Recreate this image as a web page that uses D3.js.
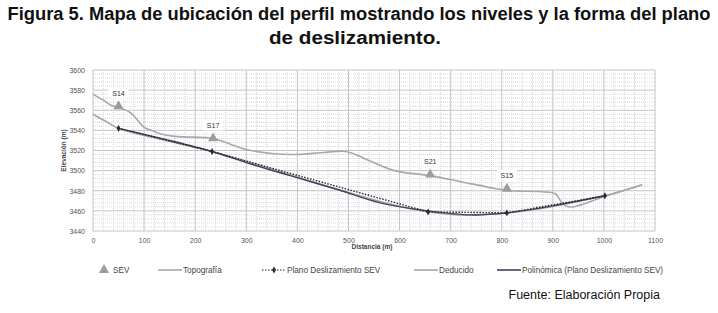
<!DOCTYPE html>
<html>
<head>
<meta charset="utf-8">
<script src="https://cdn.jsdelivr.net/npm/d3@7"></script>
<style>
  body { margin: 0; background: #fff; }
  text { font-family: "Liberation Sans", Arial, sans-serif; }
  .tick text { font-size: 7px; fill: #555; }
</style>
</head>
<body>
<div id="chart"></div>
<script>
// data (distance m, elevation m)
const topografia = [[0,3576],[20,3570],[35,3565],[60,3561],[75,3557],[100,3543],[115,3540],[130,3537],[160,3534],
  [235,3532],[270,3526],[300,3521],[350,3517],[400,3516],[450,3518],[495,3519],[540,3510],[590,3500],[660,3495],
  [720,3489],[790,3482],[820,3480],[880,3479],[905,3477],[915,3470],[925,3465],[940,3464],[1000,3474],[1075,3486]];
const deducido = [[0,3556],[25,3549],[50,3542],[233,3519],[656,3459],[810,3458],[1000,3475],[1075,3486]];
const planoSEV = [[50,3542],[233,3519],[656,3459],[810,3458],[1002,3475]];
const polinomica = [[50,3542],[150,3530],[233,3519],[300,3508],[386,3495],[480,3481],[562,3468],[656,3460],
  [740,3456],[810,3458],[900,3465],[1002,3475]];
const sevNames = ["S14","S17","S21","S15"];
const sevPoints = [[50,3564],[235,3532],[660,3496],[810,3482]];
const xTicks = [0,100,200,300,400,500,600,700,800,900,1000,1100];
const yTicks = [3440,3460,3480,3500,3520,3540,3560,3580,3600];
const legendNames = ["SEV","Topografía","Plano Deslizamiento SEV","Deducido","Polinómica (Plano Deslizamiento SEV)"];

const W = 718, H = 313;
const margin = {top: 70, right: 63, bottom: 82, left: 93};
const width = W - margin.left - margin.right,
      height = H - margin.top - margin.bottom;

const svg = d3.select("#chart").append("svg")
    .attr("width", W).attr("height", H);

// title
const title = svg.append("g").attr("font-weight", "bold").attr("font-size", 17.5)
    .attr("text-anchor", "middle").attr("fill", "#111")
    .style("font-family", "'Liberation Sans Narrow', 'Arial Narrow', 'Liberation Sans', sans-serif");
title.append("text").attr("x", 359).attr("y", 20)
    .attr("textLength", 703).attr("lengthAdjust", "spacingAndGlyphs")
    .text("Figura 5. Mapa de ubicación del perfil mostrando los niveles y la forma del plano");
title.append("text").attr("x", 355).attr("y", 44)
    .attr("textLength", 172).attr("lengthAdjust", "spacingAndGlyphs")
    .text("de deslizamiento.");

const g = svg.append("g").attr("transform", "translate(" + margin.left + "," + margin.top + ")");

const x = d3.scaleLinear().domain([0, 1100]).range([0, width]);
const y = d3.scaleLinear().domain([3440, 3600]).range([height, 0]);

// minor grid
g.append("g").selectAll("line").data(d3.range(20, 1100, 20).filter(v => v % 100))
  .join("line").attr("x1", d => x(d)).attr("x2", d => x(d)).attr("y1", 0).attr("y2", height)
  .attr("stroke", "#d4c8d4").attr("stroke-dasharray", "1,1").attr("stroke-width", 0.8);
g.append("g").selectAll("line").data(d3.range(3444, 3600, 4).filter(v => v % 20))
  .join("line").attr("y1", d => y(d)).attr("y2", d => y(d)).attr("x1", 0).attr("x2", width)
  .attr("stroke", "#d4c8d4").attr("stroke-dasharray", "1,1").attr("stroke-width", 0.8);

// major grid
g.append("g").selectAll("line").data(xTicks)
  .join("line").attr("x1", d => x(d)).attr("x2", d => x(d)).attr("y1", 0).attr("y2", height)
  .attr("stroke", "#c4c4c4");
g.append("g").selectAll("line").data(yTicks)
  .join("line").attr("y1", d => y(d)).attr("y2", d => y(d)).attr("x1", 0).attr("x2", width)
  .attr("stroke", "#c4c4c4");

// axes
const xAxis = g.append("g").attr("transform", "translate(0," + height + ")")
  .call(d3.axisBottom(x).tickValues(xTicks).tickSize(0).tickPadding(7).tickFormat(d3.format("d")));
xAxis.select(".domain").remove();
const yAxis = g.append("g")
  .call(d3.axisLeft(y).tickValues(yTicks).tickSize(0).tickPadding(8).tickFormat(d3.format("d")));
yAxis.select(".domain").remove();

g.append("text").attr("x", width / 2 - 2).attr("y", height + 18).attr("text-anchor", "middle")
  .attr("font-size", 6.5).attr("font-weight", "bold").attr("fill", "#444").text("Distancia (m)");
g.append("text").attr("transform", "translate(-27," + (height / 2) + ") rotate(-90)")
  .attr("text-anchor", "middle").attr("font-size", 6.5).attr("font-weight", "bold")
  .attr("fill", "#444").text("Elevación (m)");

const line = d3.line().x(d => x(d[0])).y(d => y(d[1]));
const smooth = d3.line().x(d => x(d[0])).y(d => y(d[1])).curve(d3.curveCatmullRom);

const cTopo = "#a8a8a8", cDed = "#a3aa9f", cPlano = "#2a2a2a", cPoly = "#4a3d66", cSev = "#9c9c9c";

g.append("path").datum(deducido).attr("d", smooth).attr("fill", "none")
  .attr("stroke", cDed).attr("stroke-width", 1.6);
g.append("path").datum(topografia).attr("d", smooth).attr("fill", "none")
  .attr("stroke", cTopo).attr("stroke-width", 1.6);
g.append("path").datum(polinomica).attr("d", smooth).attr("fill", "none")
  .attr("stroke", cPoly).attr("stroke-width", 1.4);
g.append("path").datum(planoSEV).attr("d", line).attr("fill", "none")
  .attr("stroke", cPlano).attr("stroke-width", 1.4).attr("stroke-dasharray", "1.5,1.5");

const diamond = d3.symbol().type(d3.symbolDiamond).size(14);
g.append("g").selectAll("path").data(planoSEV).join("path")
  .attr("transform", d => "translate(" + x(d[0]) + "," + y(d[1]) + ")")
  .attr("d", diamond).attr("fill", cPlano);

const tri = d3.symbol().type(d3.symbolTriangle).size(45);
g.append("g").selectAll("path").data(sevPoints).join("path")
  .attr("transform", d => "translate(" + x(d[0]) + "," + y(d[1]) + ")")
  .attr("d", tri).attr("fill", cSev);

// SEV labels
const lab = g.append("g").selectAll("g").data(sevPoints).join("g")
  .attr("transform", d => "translate(" + x(d[0]) + "," + (y(d[1]) - 13) + ")");
lab.append("rect").attr("x", -10).attr("y", -6).attr("width", 20).attr("height", 11).attr("fill", "#fff");
lab.append("text").attr("text-anchor", "middle").attr("y", 2.5).attr("font-size", 7)
  .attr("fill", "#333").text((d, i) => sevNames[i]);

// legend
const legX = [100, 158, 262, 414, 497];
const leg = svg.append("g").attr("transform", "translate(0,270)");
const items = leg.selectAll("g").data(legendNames).join("g")
  .attr("transform", (d, i) => "translate(" + legX[i] + ",0)");
items.each(function(d, i) {
  const it = d3.select(this);
  let tx;
  if (i === 0) {
    it.append("path").attr("transform", "translate(4,0)").attr("d", tri).attr("fill", cSev);
    tx = 13;
  } else {
    const col = [null, cTopo, cPlano, cDed, cPoly][i];
    const ln = it.append("line").attr("x1", 0).attr("x2", 24).attr("y1", 0).attr("y2", 0)
      .attr("stroke", col).attr("stroke-width", i === 2 ? 1.2 : 1.6);
    if (i === 2) {
      ln.attr("stroke-dasharray", "1.5,1.5");
      it.append("path").attr("transform", "translate(12,0)").attr("d", diamond).attr("fill", cPlano);
    }
    tx = 25;
  }
  it.append("text").attr("x", tx).attr("y", 2.8).attr("font-size", 8.2).attr("fill", "#444").text(d);
});

svg.append("text").attr("x", 660).attr("y", 299).attr("text-anchor", "end")
  .attr("font-size", 12.5).attr("fill", "#111").text("Fuente: Elaboración Propia");
</script>
</body>
</html>
